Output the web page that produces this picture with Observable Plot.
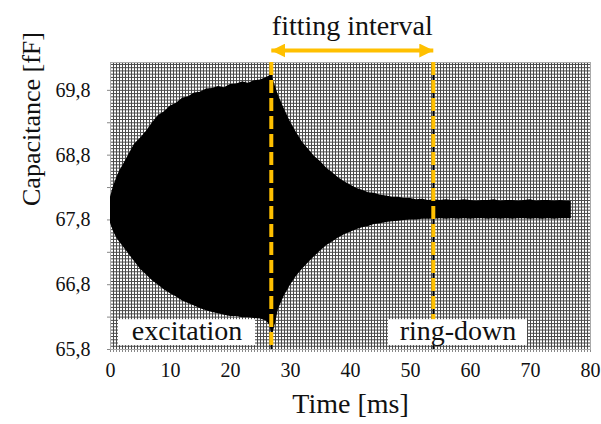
<!DOCTYPE html>
<html><head><meta charset="utf-8">
<script src="https://cdn.jsdelivr.net/npm/d3@7"></script>
<script src="https://cdn.jsdelivr.net/npm/@observablehq/plot@0.6"></script>
<style>body{margin:0;background:#fff}</style>
</head><body><div id="chart"></div>
<script>
// time [ms]
const time = [0,0.5,1,1.5,2,3,4,5,6,7,8,9,10,11,12,13,14,15,16,17,18,19,20,21,22,23,24,25,26,26.5,26.8,27.1,27.5,28,29,30,31,32,33,34,35,36,37,38,39,40,41,42,43,44,45,46,47,48,49,50,51,52,53,54,55,56,57,58,59,60,61,62,63,64,65,66,67,68,69,70,71,72,73,74,75,76,76.8];
// upper envelope of the oscillating capacitance [fF]
const upper = [68.15,68.32,68.44,68.55,68.63,68.80,68.97,69.06,69.17,69.30,69.41,69.47,69.56,69.60,69.68,69.70,69.76,69.77,69.82,69.83,69.86,69.84,69.89,69.90,69.93,69.91,69.95,69.96,70.00,70.02,70.07,69.97,69.86,69.72,69.51,69.31,69.15,69.00,68.89,68.78,68.70,68.60,68.53,68.45,68.39,68.34,68.29,68.26,68.22,68.21,68.18,68.17,68.15,68.15,68.13,68.13,68.11,68.12,68.10,68.11,68.10,68.11,68.10,68.10,68.11,68.10,68.09,68.10,68.10,68.11,68.09,68.10,68.10,68.09,68.10,68.11,68.09,68.10,68.10,68.09,68.10,68.09,68.09];
// lower envelope [fF]
const lower = [67.75,67.62,67.53,67.46,67.40,67.28,67.16,67.04,66.95,66.86,66.79,66.72,66.66,66.61,66.55,66.51,66.47,66.43,66.40,66.37,66.35,66.33,66.31,66.31,66.29,66.29,66.28,66.27,66.24,66.18,66.08,66.05,66.20,66.42,66.63,66.79,66.93,67.04,67.14,67.23,67.32,67.40,67.46,67.52,67.57,67.61,67.65,67.68,67.70,67.73,67.74,67.76,67.77,67.78,67.79,67.80,67.80,67.81,67.81,67.81,67.82,67.81,67.82,67.81,67.82,67.81,67.82,67.82,67.81,67.82,67.81,67.82,67.81,67.82,67.82,67.81,67.82,67.81,67.82,67.81,67.82,67.82,67.82];

const xTickLabels = [0,10,20,30,40,50,60,70,80];
const yTickLabels = ["65,8","66,8","67,8","68,8","69,8"];
const fitStart = 26.8, fitEnd = 53.8;
const fitLabel = "fitting interval";
const arrowY = 70.415;
const annoText = ["excitation","ring-down"];
const annoX1 = [1.33, 46.33];
const annoX2 = [24.17, 69.5];
const annoYLow = [65.86, 65.86];
const annoYHigh = [66.26, 66.26];
const annoTextY = [66.09, 66.09];

const data = time.map((t,i)=>({t, hi: upper[i], lo: lower[i]}));
const annos = annoText.map((s,i)=>({s, x1: annoX1[i], x2: annoX2[i], y1: annoYLow[i], y2: annoYHigh[i], xm: (annoX1[i]+annoX2[i])/2, ym: annoTextY[i]}));

const xGrid = d3.range(161).map(i => i*0.5);
const yGrid = d3.range(89).map(i => +(65.8 + i*0.05).toFixed(2));
const yMinor = d3.range(9).map(i => +(65.8 + i*0.5).toFixed(1));
const yLabelOf = d => { const k = Math.round((d-65.8)*10); return k % 10 === 0 ? yTickLabels[k/10] : ""; };

const serif = "Liberation Serif";
const gold = "#FFC000";

const chart = Plot.plot({
  width: 601, height: 424,
  marginLeft: 110, marginRight: 11, marginTop: 62, marginBottom: 75,
  style: {fontFamily: serif, fontSize: "20px", color: "#111", background: "white", overflow: "visible"},
  x: {domain: [0, 80], ticks: xGrid, tickFormat: d => (xTickLabels.includes(d) ? String(d) : ""), tickSize: 3, tickPadding: 10, label: null},
  y: {domain: [65.8, 70.23], ticks: yMinor, tickFormat: yLabelOf, tickSize: 3, tickPadding: 17, label: null},
  marks: [
    Plot.ruleX(xGrid, {stroke: "#4a4a4a", strokeWidth: 1}),
    Plot.ruleY(yGrid, {stroke: "#4a4a4a", strokeWidth: 1}),
    Plot.frame({stroke: "#aaa"}),
    Plot.areaY(data, {x: "t", y1: "lo", y2: "hi", fill: "black"}),
    Plot.ruleX([fitStart, fitEnd], {stroke: "black", strokeWidth: 1.5}),
    Plot.ruleX([fitStart, fitEnd], {stroke: gold, strokeWidth: 4, strokeDasharray: "13,5"}),
    Plot.rect(annos, {x1: "x1", x2: "x2", y1: "y1", y2: "y2", fill: "white"}),
    Plot.text(annos, {x: "xm", y: "ym", text: "s", fontSize: 28, fontFamily: serif, fill: "#111", lineAnchor: "middle"}),
    Plot.link([{a: fitStart, b: fitEnd, y: arrowY}], {x1: "a", x2: "b", y1: "y", y2: "y", stroke: gold, strokeWidth: 4}),
    Plot.text([fitLabel], {x: (fitStart+fitEnd)/2, frameAnchor: "top", dy: -36, fontSize: 28, fontFamily: serif, fill: "#111", lineAnchor: "middle"}),
    Plot.text(["Time [ms]"], {frameAnchor: "bottom", dy: 55, fontSize: 28, fontFamily: serif, fill: "#111", lineAnchor: "middle"}),
    Plot.text(["Capacitance [fF]"], {frameAnchor: "left", dx: -79, rotate: -90, fontSize: 26, fontFamily: serif, fill: "#111", lineAnchor: "middle"})
  ]
});

document.getElementById("chart").appendChild(chart);

const svg = d3.select(chart);
svg.style("font-family", "'Liberation Serif', serif");
// make every tick label use the serif face at 20px
svg.selectAll("text").each(function() {
  const el = d3.select(this);
  el.style("font-family", "'Liberation Serif', serif");
});
svg.selectAll('g[aria-label="x-axis"] text, g[aria-label="y-axis"] text, g[aria-label="x-axis tick label"] text, g[aria-label="y-axis tick label"] text')
  .style("font-size", "20px").style("fill", "#111");

// arrowheads for the fitting-interval arrow
const defs = svg.insert("defs", ":first-child");
defs.append("marker")
  .attr("id", "ah").attr("viewBox", "0 0 14 14").attr("refX", 14).attr("refY", 7)
  .attr("markerWidth", 14).attr("markerHeight", 14).attr("markerUnits", "userSpaceOnUse")
  .attr("orient", "auto-start-reverse")
  .append("path").attr("d", "M0,0L14,7L0,14Z").attr("fill", gold);
svg.selectAll('g[aria-label="link"] path').attr("marker-start", "url(#ah)").attr("marker-end", "url(#ah)");
svg.selectAll('g[aria-label="x-axis tick"] path, g[aria-label="y-axis tick"] path, g[aria-label="x-axis"] line, g[aria-label="y-axis"] line').attr("stroke", "#888");
</script>
</body></html>
